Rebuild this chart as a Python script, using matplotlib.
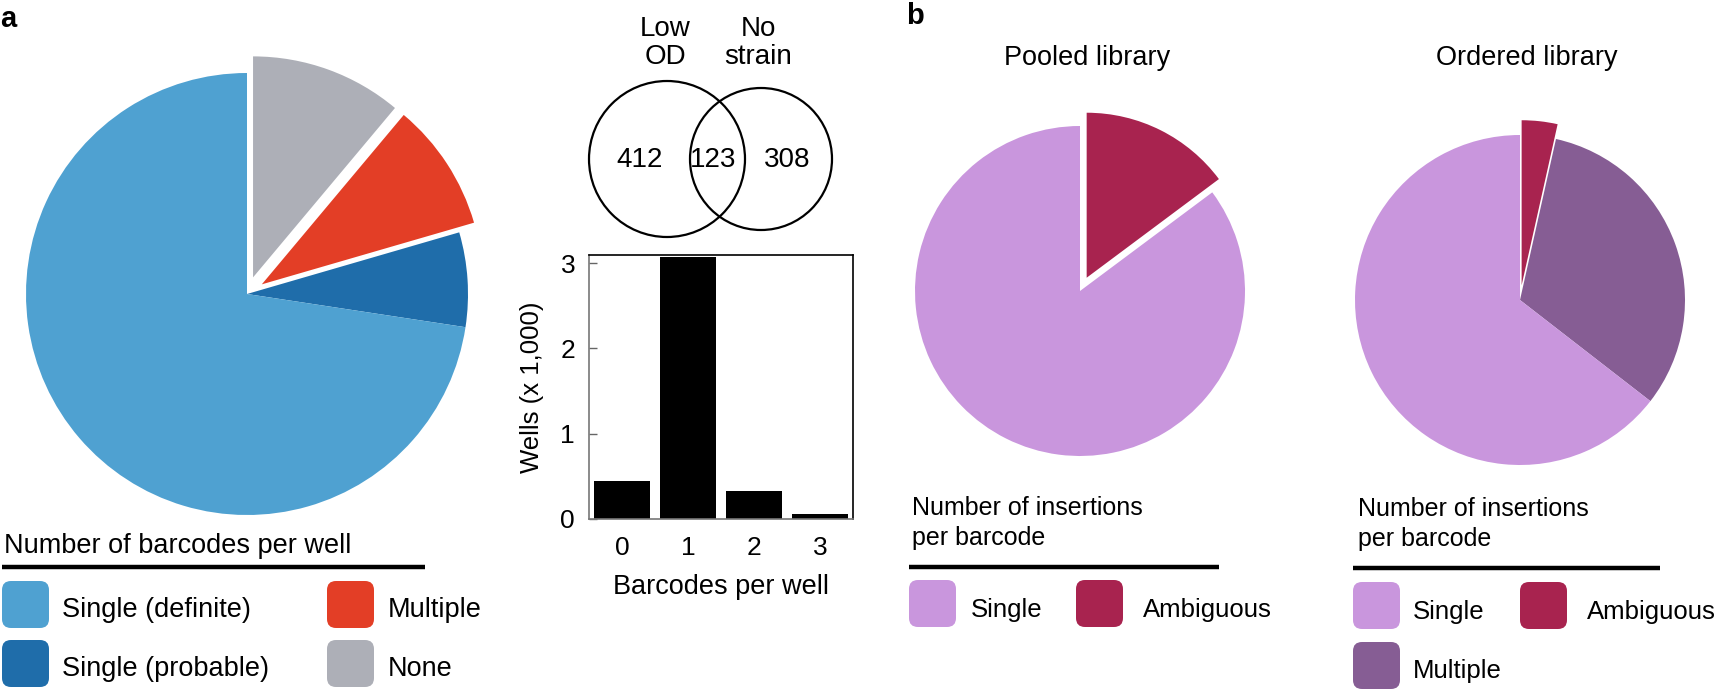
import matplotlib
matplotlib.use("Agg")
import matplotlib.pyplot as plt
from matplotlib.patches import FancyBboxPatch, Circle

plt.rcParams['font.family'] = ['Liberation Sans', 'DejaVu Sans']

# panel a pie (clockwise from 12 o'clock)
a_labels = ['None', 'Multiple', 'Single (probable)', 'Single (definite)']
a_share = [11.1, 9.4, 6.9, 72.6]
a_colors = ['#adafb7', '#e33e26', '#1f6daa', '#4fa1d1']
a_explode = [0.08, 0.08, 0, 0]

# venn
venn_sets = ['Low\nOD', 'No\nstrain']
venn_counts = [412, 123, 308]

# bar chart
barcodes = [0, 1, 2, 3]
wells = [0.445, 3.07, 0.33, 0.06]

# panel b pies
pooled_labels = ['Ambiguous', 'Single']
pooled_share = [14.8, 85.2]
pooled_colors = ['#a8234f', '#c996dd']
ordered_labels = ['Ambiguous', 'Multiple', 'Single']
ordered_share = [3.5, 32.0, 64.5]
ordered_colors = ['#a8234f', '#865d94', '#c996dd']

W, H = 1722, 690
fig = plt.figure(figsize=(W / 100, H / 100), dpi=100)


def px_axes(x0, y0, x1, y1):
    return fig.add_axes([x0 / W, 1 - y1 / H, (x1 - x0) / W, (y1 - y0) / H])


ov = px_axes(0, 0, W, H)
ov.set_xlim(0, W)
ov.set_ylim(H, 0)
ov.axis('off')


def pie_at(cx, cy, r, vals, cols, expl):
    half = r * 1.2
    ax = px_axes(cx - half, cy - half, cx + half, cy + half)
    ax.pie(vals, colors=cols, explode=expl, startangle=90, counterclock=False,
           radius=1, wedgeprops=dict(linewidth=0))
    ax.set_xlim(-1.2, 1.2)
    ax.set_ylim(-1.2, 1.2)
    ax.set_aspect('equal')
    ax.axis('off')
    return ax


pie_at(247, 294, 221, a_share, a_colors, a_explode)
pie_at(1080, 291, 165, pooled_share, pooled_colors, [0.09, 0])
pie_at(1520, 300, 165, ordered_share, ordered_colors, [0.09, 0, 0])

# panel labels
ov.text(0, 27, 'a', fontsize=21, fontweight='bold', va='baseline', ha='left')
ov.text(906, 24, 'b', fontsize=21, fontweight='bold', va='baseline', ha='left')

ov.text(1087, 58, 'Pooled library', fontsize=19.5, ha='center', va='center')
ov.text(1527, 58, 'Ordered library', fontsize=19.5, ha='center', va='center')


def legend_box(x, y, c, size=47):
    ov.add_patch(FancyBboxPatch((x, y), size, size,
                                boxstyle='round,pad=0,rounding_size=9',
                                facecolor=c, edgecolor='none'))


# legend a
ov.text(4, 553, 'Number of barcodes per well', fontsize=19.5, va='baseline')
ov.plot([2, 425], [567, 567], color='black', lw=3.2, solid_capstyle='butt')
a_leg = [(2, 581, a_colors[3], a_labels[3], 62),
         (2, 640, a_colors[2], a_labels[2], 62),
         (327, 581, a_colors[1], a_labels[1], 388),
         (327, 640, a_colors[0], a_labels[0], 388)]
for x, y, c, lab, tx in a_leg:
    legend_box(x, y, c)
    ov.text(tx, y + 36, lab, fontsize=19.5, va='baseline')

# legend b pooled
ov.text(912, 523, 'Number of insertions\nper barcode', fontsize=18,
        va='center', linespacing=1.3)
ov.plot([909, 1219], [567, 567], color='black', lw=3.2, solid_capstyle='butt')
legend_box(909, 580, pooled_colors[1])
ov.text(971, 617, pooled_labels[1], fontsize=18.5, va='baseline')
legend_box(1076, 580, pooled_colors[0])
ov.text(1143, 617, pooled_labels[0], fontsize=18.5, va='baseline')

# legend b ordered
ov.text(1358, 524, 'Number of insertions\nper barcode', fontsize=18,
        va='center', linespacing=1.3)
ov.plot([1353, 1660], [568, 568], color='black', lw=3.2, solid_capstyle='butt')
legend_box(1353, 582, ordered_colors[2])
ov.text(1413, 619, ordered_labels[2], fontsize=18.5, va='baseline')
legend_box(1520, 582, ordered_colors[0])
ov.text(1587, 619, ordered_labels[0], fontsize=18.5, va='baseline')
legend_box(1353, 642, ordered_colors[1])
ov.text(1413, 678, ordered_labels[1], fontsize=18.5, va='baseline')

# venn
ov.add_patch(Circle((667, 159), 78, fill=False, lw=1.6, edgecolor='black'))
ov.add_patch(Circle((761, 159), 71, fill=False, lw=1.6, edgecolor='black'))
ov.text(665, 43, venn_sets[0], fontsize=20, ha='center', va='center',
        linespacing=1.15)
ov.text(758, 43, venn_sets[1], fontsize=20, ha='center', va='center',
        linespacing=1.15)
for xv, n in zip([640, 713, 787], venn_counts):
    ov.text(xv, 160, str(n), fontsize=20, ha='center', va='center')

# bar chart
bx = px_axes(589, 255, 853, 519)
bx.bar(barcodes, wells, width=0.84, color='black')
bx.set_xlim(-0.5, 3.5)
bx.set_ylim(0, 3.094)
bx.set_yticks([0, 1, 2, 3])
bx.set_xticks(barcodes)
bx.tick_params(axis='y', direction='in', length=6, width=1, labelsize=19,
               color='#666666', pad=10)
bx.tick_params(axis='x', length=0, labelsize=19, pad=12)
for s in ['left', 'bottom']:
    bx.spines[s].set_color('#777777')
    bx.spines[s].set_linewidth(1.2)
for s in ['top', 'right']:
    bx.spines[s].set_linewidth(1.2)
bx.set_xlabel('Barcodes per well', fontsize=19.5, labelpad=10)
bx.set_ylabel('Wells (x 1,000)', fontsize=18.5, labelpad=12)

fig.savefig('out.png', dpi=100)
